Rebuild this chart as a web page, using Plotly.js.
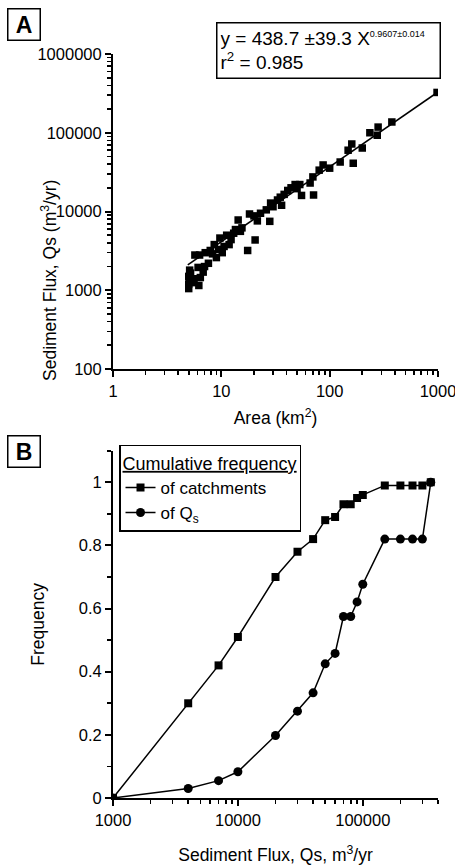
<!DOCTYPE html>
<html><head><meta charset="utf-8">
<script src="https://cdn.plot.ly/plotly-3.0.1.min.js"></script>
<style>html,body{margin:0;padding:0;background:#fff}#chart{width:455px;height:868px}</style>
</head><body><div id="chart"></div>
<script>
// Panel A: catchment area vs sediment flux
const areaKm2 = [5.0,5.0,5.1,5.0,5.2,5.1,5.4,5.6,5.7,6.2,6.4,6.1,6.3,6.8,7.0,7.1,7.6,7.9,8.3,8.6,9.0,9.4,9.7,10.2,10.6,11.2,11.8,12.3,13,13.5,14.3,15,15.5,17.5,18.2,20.5,20,21.5,23,26,28,28.5,30,33,35,36,38,41,44,48,50,53,55,66,70,71,80,87,100,125,148,160,165,200,235,275,280,375,980];
const fluxQs = [1050,1200,1350,1500,1650,1800,1250,1400,2800,1150,1450,1950,2800,1700,2000,3000,2200,3200,2900,3800,2600,3300,4600,3000,3600,5000,3800,4400,5300,5900,7800,5600,6200,3200,9300,4350,8800,7600,9500,10500,7500,12800,11500,14000,15200,12000,16500,18500,20000,22000,19500,22000,16000,23000,27500,16200,33500,39000,35500,42500,60000,72000,41000,64000,100000,93000,118000,137000,325000];
// fitted power-law line, end points
const fitArea = [4.9, 1000];
const fitFlux = [2100, 330000];

// Panel B: cumulative frequencies
const binFlux = [1000,4000,7000,10000,20000,30000,40000,50000,60000,70000,80000,90000,100000,150000,200000,250000,300000,350000];
const cumCatchments = [0,0.30,0.42,0.51,0.70,0.78,0.82,0.88,0.89,0.93,0.93,0.95,0.96,0.99,0.99,0.99,0.99,1.0];
const cumQs = [0,0.03,0.055,0.083,0.198,0.275,0.333,0.425,0.458,0.575,0.575,0.621,0.677,0.82,0.82,0.82,0.82,1.0];

const FONT = 'Liberation Sans, Arial, sans-serif';
const traces = [
  {x: fitArea, y: fitFlux, xaxis:'x', yaxis:'y', mode:'lines', line:{color:'black', width:1.6}, showlegend:false, hoverinfo:'skip'},
  {x: areaKm2, y: fluxQs, xaxis:'x', yaxis:'y', mode:'markers', marker:{symbol:'square', size:7.5, color:'black'}, showlegend:false},
  {x: binFlux, y: cumCatchments, xaxis:'x2', yaxis:'y2', mode:'lines+markers', name:'of catchments',
   line:{color:'black', width:1.5}, marker:{symbol:'square', size:8, color:'black'}},
  {x: binFlux, y: cumQs, xaxis:'x2', yaxis:'y2', mode:'lines+markers', name:'of Q<sub>s</sub>',
   line:{color:'black', width:1.5}, marker:{symbol:'circle', size:9, color:'black'}}
];

// minor tick positions on log axes: 2..9 within each decade
function logMinorVals(lo, hi) {
  const v = [];
  for (let d = lo; d < hi; d++) for (let k = 2; k <= 9; k++) v.push(k * Math.pow(10, d));
  return v;
}

const axBase = {
  showline:true, linecolor:'black', linewidth:2, showgrid:false, zeroline:false,
  ticks:'outside', ticklen:6, tickwidth:2, tickcolor:'black', ticklabeloverflow:'allow',
  tickfont:{family:FONT, size:16.5, color:'black'}
};
function logMinor(lo, hi) {
  return {ticks:'outside', ticklen:4, tickwidth:1.6, tickcolor:'black', tickmode:'array', tickvals:logMinorVals(lo, hi), showgrid:false};
}

const rangeB = [3, Math.log10(400000)];
const layout = {
  width:455, height:868,
  margin:{l:113, r:17, t:54, b:70},
  paper_bgcolor:'white', plot_bgcolor:'white',
  font:{family:FONT, color:'black'},
  showlegend:true,
  xaxis: Object.assign({}, axBase, {type:'log', range:[0,3], dtick:1, tickformat:'d', anchor:'y', domain:[0,1],
    minor:logMinor(0,3),
    title:{text:'Area (km<sup>2</sup>)', font:{family:FONT, size:17.5, color:'black'}, standoff:13}}),
  yaxis: Object.assign({}, axBase, {type:'log', range:[2,6], dtick:1, tickformat:'d', anchor:'x', domain:[0.5766,1],
    minor:logMinor(2,6)}),
  xaxis2: Object.assign({}, axBase, {type:'log', range:rangeB, dtick:1, tickformat:'d', anchor:'y2', domain:[0,1],
    minor:logMinor(3,6),
    title:{text:'Sediment Flux, Qs, m<sup>3</sup>/yr', font:{family:FONT, size:17.5, color:'black'}, standoff:21}}),
  yaxis2: Object.assign({}, axBase, {range:[0,1.1], dtick:0.2, anchor:'x2', domain:[0,0.4668],
    minor:{ticks:'outside', ticklen:4, tickwidth:1.6, tickcolor:'black', dtick:0.1, showgrid:false},
    title:{text:'Frequency', font:{family:FONT, size:17.5, color:'black'}, standoff:30}}),
  legend:{x:0.0185, y:0.4745, xanchor:'left', yanchor:'top', bgcolor:'white', bordercolor:'black', borderwidth:1.5,
    font:{family:FONT, size:17, color:'black'}, itemwidth:30, tracegroupgap:0,
    title:{text:'<u>Cumulative frequency</u>', font:{family:FONT, size:18, color:'black'}}},
  annotations:[
    {xref:'paper', yref:'paper', x:-0.237, y:0.834, text:'Sediment Flux, Qs (m<sup>3</sup>/yr)', textangle:-90,
     showarrow:false, font:{family:FONT, size:17.5, color:'black'}},
    {xref:'paper', yref:'paper', x:0.317, y:1.043, xanchor:'left', yanchor:'top', align:'left', showarrow:false,
     text:'y = 438.7 ±39.3 X<sup><span style="font-size:9px">0.9607±0.014</span></sup><br>r<sup>2</sup> = 0.985',
     font:{family:FONT, size:19, color:'black'}, bordercolor:'black', borderwidth:1.5, borderpad:3, bgcolor:'white',
     width:216, height:48},
    {xref:'paper', yref:'paper', x:-0.3262, y:1.0618, xanchor:'left', yanchor:'top', showarrow:false,
     text:'<b>A</b>', font:{family:FONT, size:23, color:'black'}, bordercolor:'black', borderwidth:1.5, borderpad:2, width:27, height:26},
    {xref:'paper', yref:'paper', x:-0.3262, y:0.4879, xanchor:'left', yanchor:'top', showarrow:false,
     text:'<b>B</b>', font:{family:FONT, size:23, color:'black'}, bordercolor:'black', borderwidth:1.5, borderpad:2, width:27, height:26}
  ]
};

Plotly.newPlot('chart', traces, layout, {displayModeBar:false, staticPlot:true});
</script>
</body></html>
